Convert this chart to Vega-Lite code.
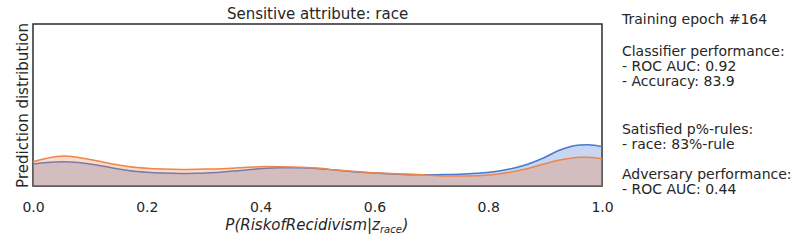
{
  "$schema": "https://vega.github.io/schema/vega-lite/v6.json",
  "width": 569,
  "height": 162,
  "autosize": {"type": "none"},
  "padding": {"left": 33, "top": 24, "right": 195, "bottom": 59},
  "background": "white",
  "config": {
    "font": "DejaVu Sans",
    "view": {"stroke": "#2b2b2b", "strokeWidth": 1.5},
    "axis": {"grid": false, "domain": false, "ticks": false, "tickSize": 0, "labelColor": "#262626", "titleColor": "#262626", "labelFont": "DejaVu Sans", "titleFont": "DejaVu Sans", "titleFontWeight": "normal"},
    "text": {"color": "#262626", "font": "DejaVu Sans", "baseline": "alphabetic"}
  },
  "datasets": {
    "kde": [
      {"p": 0.0, "density": 2.2, "group": "z=1"},
      {"p": 0.025, "density": 2.36, "group": "z=1"},
      {"p": 0.053, "density": 2.43, "group": "z=1"},
      {"p": 0.08, "density": 2.35, "group": "z=1"},
      {"p": 0.112, "density": 2.1, "group": "z=1"},
      {"p": 0.14, "density": 1.8, "group": "z=1"},
      {"p": 0.17, "density": 1.53, "group": "z=1"},
      {"p": 0.2, "density": 1.38, "group": "z=1"},
      {"p": 0.228, "density": 1.3, "group": "z=1"},
      {"p": 0.26, "density": 1.26, "group": "z=1"},
      {"p": 0.288, "density": 1.27, "group": "z=1"},
      {"p": 0.31, "density": 1.32, "group": "z=1"},
      {"p": 0.334, "density": 1.4, "group": "z=1"},
      {"p": 0.36, "density": 1.53, "group": "z=1"},
      {"p": 0.387, "density": 1.67, "group": "z=1"},
      {"p": 0.41, "density": 1.77, "group": "z=1"},
      {"p": 0.434, "density": 1.83, "group": "z=1"},
      {"p": 0.47, "density": 1.83, "group": "z=1"},
      {"p": 0.504, "density": 1.73, "group": "z=1"},
      {"p": 0.53, "density": 1.6, "group": "z=1"},
      {"p": 0.562, "density": 1.43, "group": "z=1"},
      {"p": 0.59, "density": 1.32, "group": "z=1"},
      {"p": 0.622, "density": 1.23, "group": "z=1"},
      {"p": 0.645, "density": 1.17, "group": "z=1"},
      {"p": 0.668, "density": 1.13, "group": "z=1"},
      {"p": 0.695, "density": 1.13, "group": "z=1"},
      {"p": 0.721, "density": 1.14, "group": "z=1"},
      {"p": 0.75, "density": 1.18, "group": "z=1"},
      {"p": 0.78, "density": 1.27, "group": "z=1"},
      {"p": 0.81, "density": 1.42, "group": "z=1"},
      {"p": 0.838, "density": 1.7, "group": "z=1"},
      {"p": 0.868, "density": 2.15, "group": "z=1"},
      {"p": 0.896, "density": 2.77, "group": "z=1"},
      {"p": 0.926, "density": 3.6, "group": "z=1"},
      {"p": 0.945, "density": 3.95, "group": "z=1"},
      {"p": 0.961, "density": 4.1, "group": "z=1"},
      {"p": 0.975, "density": 4.13, "group": "z=1"},
      {"p": 0.99, "density": 4.05, "group": "z=1"},
      {"p": 1.0, "density": 3.95, "group": "z=1"},
      {"p": 0.0, "density": 2.43, "group": "z=0"},
      {"p": 0.025, "density": 2.78, "group": "z=0"},
      {"p": 0.053, "density": 3.0, "group": "z=0"},
      {"p": 0.08, "density": 2.86, "group": "z=0"},
      {"p": 0.112, "density": 2.53, "group": "z=0"},
      {"p": 0.14, "density": 2.2, "group": "z=0"},
      {"p": 0.17, "density": 1.93, "group": "z=0"},
      {"p": 0.2, "density": 1.78, "group": "z=0"},
      {"p": 0.228, "density": 1.7, "group": "z=0"},
      {"p": 0.26, "density": 1.66, "group": "z=0"},
      {"p": 0.288, "density": 1.67, "group": "z=0"},
      {"p": 0.31, "density": 1.7, "group": "z=0"},
      {"p": 0.334, "density": 1.73, "group": "z=0"},
      {"p": 0.36, "density": 1.82, "group": "z=0"},
      {"p": 0.387, "density": 1.9, "group": "z=0"},
      {"p": 0.41, "density": 1.94, "group": "z=0"},
      {"p": 0.434, "density": 1.93, "group": "z=0"},
      {"p": 0.47, "density": 1.88, "group": "z=0"},
      {"p": 0.504, "density": 1.77, "group": "z=0"},
      {"p": 0.53, "density": 1.62, "group": "z=0"},
      {"p": 0.562, "density": 1.47, "group": "z=0"},
      {"p": 0.59, "density": 1.36, "group": "z=0"},
      {"p": 0.622, "density": 1.27, "group": "z=0"},
      {"p": 0.645, "density": 1.21, "group": "z=0"},
      {"p": 0.668, "density": 1.17, "group": "z=0"},
      {"p": 0.695, "density": 1.08, "group": "z=0"},
      {"p": 0.721, "density": 1.0, "group": "z=0"},
      {"p": 0.75, "density": 0.99, "group": "z=0"},
      {"p": 0.78, "density": 1.03, "group": "z=0"},
      {"p": 0.81, "density": 1.15, "group": "z=0"},
      {"p": 0.838, "density": 1.37, "group": "z=0"},
      {"p": 0.868, "density": 1.72, "group": "z=0"},
      {"p": 0.896, "density": 2.17, "group": "z=0"},
      {"p": 0.926, "density": 2.6, "group": "z=0"},
      {"p": 0.945, "density": 2.78, "group": "z=0"},
      {"p": 0.961, "density": 2.87, "group": "z=0"},
      {"p": 0.975, "density": 2.88, "group": "z=0"},
      {"p": 0.99, "density": 2.8, "group": "z=0"},
      {"p": 1.0, "density": 2.72, "group": "z=0"}
    ],
    "texts": [
      {"part": "title", "label": "Sensitive attribute: race"},
      {"part": "epoch", "label": "Training epoch #164"},
      {"part": "clf", "label": "Classifier performance:\n- ROC AUC: 0.92\n- Accuracy: 83.9"},
      {"part": "prule", "label": "Satisfied p%-rules:\n- race: 83%-rule"},
      {"part": "adv", "label": "Adversary performance:\n- ROC AUC: 0.44"},
      {"part": "main", "label": "P(RiskofRecidivism|z"},
      {"part": "sub", "label": "race"},
      {"part": "close", "label": ")"}
    ]
  },
  "layer": [
    {
      "data": {"name": "kde"},
      "transform": [{"filter": "datum.group === 'z=1'"}],
      "mark": {"type": "area", "color": "#4878d0", "fillOpacity": 0.3, "interpolate": "monotone"},
      "encoding": {
        "x": {"field": "p", "type": "quantitative", "scale": {"domain": [0, 1], "nice": false}, "axis": {"title": null, "values": [0, 0.2, 0.4, 0.6, 0.8, 1.0], "format": ".1f", "labelFontSize": 14, "labelPadding": 14, "labelFlush": false}},
        "y": {"field": "density", "type": "quantitative", "scale": {"domain": [0, 16.2], "nice": false}, "axis": {"title": "Prediction distribution", "labels": false, "titleFontSize": 15, "titlePadding": 3}}
      }
    },
    {
      "data": {"name": "kde"},
      "transform": [{"filter": "datum.group === 'z=1'"}],
      "mark": {"type": "line", "color": "#4878d0", "strokeWidth": 1.5, "interpolate": "monotone"},
      "encoding": {
        "x": {"field": "p", "type": "quantitative"},
        "y": {"field": "density", "type": "quantitative"}
      }
    },
    {
      "data": {"name": "kde"},
      "transform": [{"filter": "datum.group === 'z=0'"}],
      "mark": {"type": "area", "color": "#ee854a", "fillOpacity": 0.3, "interpolate": "monotone"},
      "encoding": {
        "x": {"field": "p", "type": "quantitative"},
        "y": {"field": "density", "type": "quantitative"}
      }
    },
    {
      "data": {"name": "kde"},
      "transform": [{"filter": "datum.group === 'z=0'"}],
      "mark": {"type": "line", "color": "#ee854a", "strokeWidth": 1.5, "interpolate": "monotone"},
      "encoding": {
        "x": {"field": "p", "type": "quantitative"},
        "y": {"field": "density", "type": "quantitative"}
      }
    },
    {
      "data": {"name": "texts"},
      "transform": [{"filter": "datum.part === 'title'"}],
      "mark": {"type": "text", "align": "center", "fontSize": 15},
      "encoding": {
        "x": {"datum": 0.5, "type": "quantitative"},
        "y": {"datum": 16.7, "type": "quantitative"},
        "text": {"field": "label"}
      }
    },
    {
      "data": {"name": "texts"},
      "transform": [{"filter": "datum.part === 'epoch'"}],
      "mark": {"type": "text", "align": "left", "fontSize": 14},
      "encoding": {
        "x": {"datum": 1.035, "type": "quantitative"},
        "y": {"datum": 16.25, "type": "quantitative"},
        "text": {"field": "label"}
      }
    },
    {
      "data": {"name": "texts"},
      "transform": [{"filter": "datum.part === 'clf'"}],
      "mark": {"type": "text", "align": "left", "fontSize": 14, "lineHeight": 15, "lineBreak": "\n"},
      "encoding": {
        "x": {"datum": 1.035, "type": "quantitative"},
        "y": {"datum": 13.0, "type": "quantitative"},
        "text": {"field": "label"}
      }
    },
    {
      "data": {"name": "texts"},
      "transform": [{"filter": "datum.part === 'prule'"}],
      "mark": {"type": "text", "align": "left", "fontSize": 14, "lineHeight": 15, "lineBreak": "\n"},
      "encoding": {
        "x": {"datum": 1.035, "type": "quantitative"},
        "y": {"datum": 5.25, "type": "quantitative"},
        "text": {"field": "label"}
      }
    },
    {
      "data": {"name": "texts"},
      "transform": [{"filter": "datum.part === 'adv'"}],
      "mark": {"type": "text", "align": "left", "fontSize": 14, "lineHeight": 15.5, "lineBreak": "\n"},
      "encoding": {
        "x": {"datum": 1.035, "type": "quantitative"},
        "y": {"datum": 0.75, "type": "quantitative"},
        "text": {"field": "label"}
      }
    },
    {
      "data": {"name": "texts"},
      "transform": [{"filter": "datum.part === 'main'"}],
      "mark": {"type": "text", "align": "right", "fontSize": 15, "fontStyle": "italic"},
      "encoding": {
        "x": {"datum": 0.6098, "type": "quantitative"},
        "y": {"datum": -4.4, "type": "quantitative"},
        "text": {"field": "label"}
      }
    },
    {
      "data": {"name": "texts"},
      "transform": [{"filter": "datum.part === 'sub'"}],
      "mark": {"type": "text", "align": "left", "fontSize": 10, "fontStyle": "italic"},
      "encoding": {
        "x": {"datum": 0.6098, "type": "quantitative"},
        "y": {"datum": -4.7, "type": "quantitative"},
        "text": {"field": "label"}
      }
    },
    {
      "data": {"name": "texts"},
      "transform": [{"filter": "datum.part === 'close'"}],
      "mark": {"type": "text", "align": "left", "fontSize": 15, "fontStyle": "italic"},
      "encoding": {
        "x": {"datum": 0.6495, "type": "quantitative"},
        "y": {"datum": -4.4, "type": "quantitative"},
        "text": {"field": "label"}
      }
    }
  ]
}
